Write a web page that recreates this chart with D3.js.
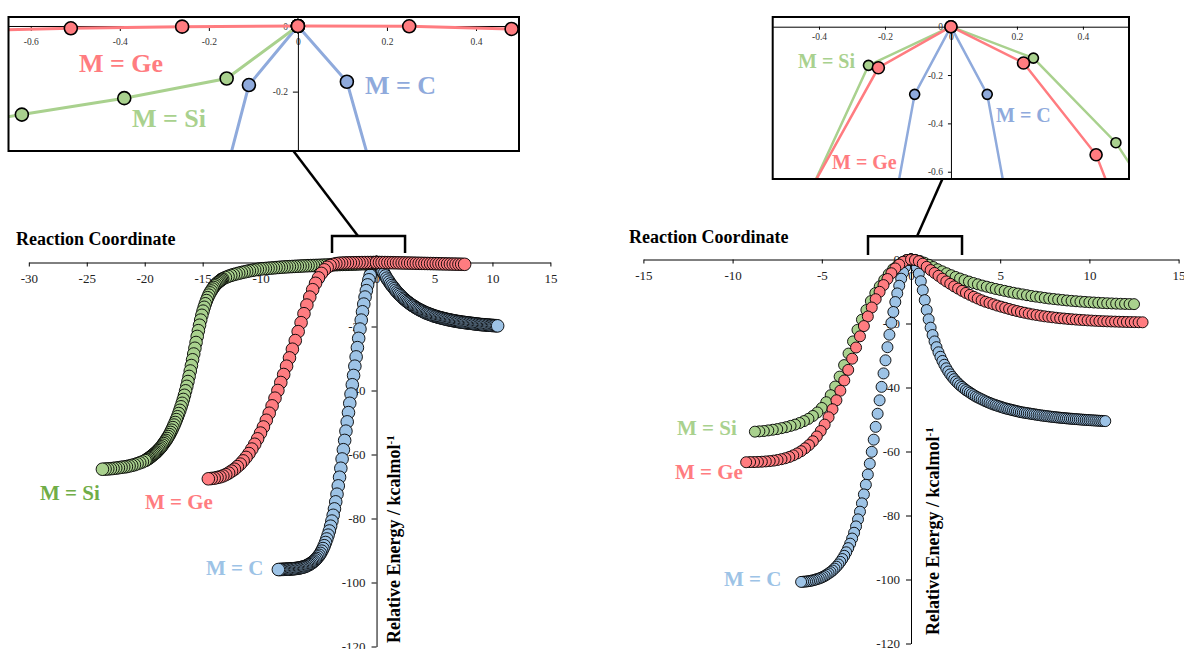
<!DOCTYPE html>
<html>
<head>
<meta charset="utf-8">
<script src="https://cdn.jsdelivr.net/npm/d3@7"></script>
<style>
  body { margin: 0; background: #fff; }
  svg { font-family: "Liberation Serif", "Times New Roman", serif; }
</style>
</head>
<body>
<div id="chart"></div>
<script>
// IRC profiles, [reaction coordinate, relative energy kcal/mol]
// each branch starts at the TS and goes outward (that is also the drawing order)

// ---- left panel ----
var siL_rev = [[0,0],[-0.16,-0.16],[-0.39,-0.22],[-0.62,-0.27],[-0.85,-0.32],[-1.08,-0.36],[-1.31,-0.4],[-1.54,-0.43],[-1.77,-0.47],[-2,-0.5],[-2.23,-0.52],[-2.46,-0.55],[-2.69,-0.57],[-2.92,-0.59],[-3.15,-0.62],[-3.38,-0.66],[-3.61,-0.69],[-3.84,-0.72],[-4.07,-0.76],[-4.3,-0.8],[-4.53,-0.83],[-4.76,-0.86],[-4.99,-0.9],[-5.22,-0.92],[-5.45,-0.95],[-5.68,-0.97],[-5.91,-0.99],[-6.14,-1.03],[-6.37,-1.07],[-6.6,-1.12],[-6.83,-1.17],[-7.06,-1.21],[-7.29,-1.26],[-7.52,-1.3],[-7.75,-1.35],[-7.98,-1.4],[-8.21,-1.46],[-8.44,-1.53],[-8.67,-1.6],[-8.9,-1.67],[-9.13,-1.74],[-9.36,-1.81],[-9.59,-1.88],[-9.82,-1.95],[-10.05,-2.02],[-10.28,-2.15],[-10.51,-2.3],[-10.74,-2.45],[-10.97,-2.6],[-11.2,-2.78],[-11.43,-2.96],[-11.66,-3.15],[-11.89,-3.36],[-12.12,-3.58],[-12.35,-3.8],[-12.58,-4.05],[-12.81,-4.35],[-13.04,-4.7],[-13.27,-5.1],
  [-13.37,-5.3],[-13.47,-5.6],[-13.57,-5.9],[-13.67,-6.2],[-13.77,-6.5],[-13.87,-6.9],[-13.97,-7.3],[-14.07,-7.8],[-14.17,-8.3],[-14.27,-8.9],[-14.37,-9.5],[-14.47,-10.2],[-14.57,-11],[-14.67,-11.9],[-14.77,-12.9],[-14.87,-14],[-14.97,-15.2],[-15.07,-16.5],[-15.17,-18],[-15.27,-19.6],[-15.37,-21.3],[-15.47,-23.1],[-15.57,-25],[-15.67,-26.8],[-15.77,-28.6],[-15.87,-30.4],[-15.97,-32.2],[-16.07,-33.9],[-16.17,-35.6],[-16.27,-37.2],[-16.37,-38.7],[-16.47,-40.1],[-16.57,-41.5],[-16.67,-42.8],[-16.77,-44],[-16.87,-45.1],[-16.97,-46.2],[-17.07,-47.2],[-17.17,-48.2],[-17.27,-49.1],[-17.37,-50],[-17.47,-50.8],[-17.57,-51.6],[-17.67,-52.4],[-17.77,-53.1],[-17.87,-53.8],[-17.97,-54.4],[-18.07,-55],[-18.17,-55.6],[-18.27,-56.1],[-18.37,-56.6],[-18.47,-57.1],[-18.57,-57.6],[-18.67,-58],[-18.77,-58.4],[-18.87,-58.8],[-18.97,-59.2],[-19.07,-59.5],[-19.17,-59.8],[-19.27,-60.1],[-19.37,-60.4],[-19.47,-60.7],[-19.57,-61],[-19.67,-61.2],[-19.77,-61.5],[-19.87,-61.7],[-19.97,-61.9],
  [-20.2,-62.3],[-20.43,-62.6],[-20.66,-62.9],[-20.89,-63.2],[-21.12,-63.4],[-21.35,-63.6],[-21.58,-63.8],[-21.81,-63.9],[-22.04,-64],[-22.27,-64.15],[-22.5,-64.25],[-22.73,-64.35],[-22.96,-64.45],[-23.19,-64.5],[-23.42,-64.55],[-23.65,-64.6]];

var geL_rev = [[0,0],[-0.26,-0.002],[-0.51,-0.007],[-0.76,-0.015],[-1.01,-0.025],[-1.26,-0.035],[-1.51,-0.045],[-1.76,-0.06],[-2.01,-0.075],[-2.26,-0.09],[-2.51,-0.11],[-2.76,-0.14],[-3.01,-0.18],[-3.26,-0.25],[-3.51,-0.38],[-3.76,-0.6],[-4.01,-0.95],[-4.26,-1.5],[-4.51,-2.3],[-4.76,-3.4],[-5.01,-4.8],[-5.26,-6.5],[-5.51,-8.5],[-5.76,-10.8],[-6.01,-13.3],[-6.26,-16],[-6.51,-18.8],[-6.76,-21.6],[-7.01,-24.4],[-7.26,-27.1],[-7.51,-29.8],[-7.76,-32.4],[-8.01,-35],[-8.26,-37.5],[-8.51,-40],[-8.76,-42.4],[-9.01,-44.8],[-9.26,-47.1],[-9.51,-49.3],[-9.76,-51.4],[-10.01,-53.3],[-10.26,-55.1],[-10.51,-56.8],[-10.76,-58.3],[-11.01,-59.7],[-11.26,-60.9],[-11.51,-62],[-11.76,-63],[-12.01,-63.8],[-12.26,-64.6],[-12.51,-65.2],[-12.76,-65.8],[-13.01,-66.3],[-13.26,-66.7],[-13.51,-67],[-13.76,-67.2],[-14.01,-67.4],[-14.26,-67.5],[-14.51,-67.6]];
var geL_fwd = [[0,0],[0.25,-0.001],[0.48,-0.009],[0.73,-0.02],[0.98,-0.035],[1.23,-0.05],[1.47,-0.07],[1.72,-0.09],[1.96,-0.11],[2.21,-0.13],[2.45,-0.15],[2.7,-0.17],[2.94,-0.19],[3.19,-0.21],[3.43,-0.23],[3.68,-0.25],[3.92,-0.27],[4.17,-0.29],[4.41,-0.31],[4.66,-0.33],[4.9,-0.35],[5.15,-0.37],[5.39,-0.39],[5.64,-0.41],[5.88,-0.43],[6.13,-0.45],[6.37,-0.47],[6.62,-0.49],[6.86,-0.51],[7.11,-0.53],[7.35,-0.55],[7.6,-0.57]];

var cL_rev = [[0,0],[-0.11,-0.18],[-0.22,-0.75],[-0.33,-1.6],[-0.44,-2.7],[-0.55,-4],[-0.66,-5.4],[-0.77,-7],[-0.88,-8.8],[-0.99,-10.8],[-1.1,-13],[-1.21,-15.4],[-1.32,-18],[-1.43,-20.8],[-1.54,-23.7],[-1.65,-26.6],[-1.76,-29.5],[-1.87,-32.4],[-1.98,-35.3],[-2.09,-38.2],[-2.2,-41.1],[-2.31,-44],[-2.42,-46.9],[-2.53,-49.8],[-2.64,-52.7],[-2.75,-55.6],[-2.86,-58.5],[-2.97,-61.4],[-3.08,-64.3],[-3.19,-67.1],[-3.3,-69.8],[-3.41,-72.4],[-3.52,-74.8],[-3.63,-77],[-3.74,-79],[-3.85,-80.8],[-3.96,-82.4],[-4.07,-83.9],[-4.18,-85.2],[-4.29,-86.4],[-4.4,-87.5],[-4.51,-88.5],[-4.62,-89.4],[-4.73,-90.2],[-4.84,-90.9],[-4.95,-91.5],[-5.06,-92],[-5.17,-92.5],[-5.28,-92.9],[-5.39,-93.3],[-5.5,-93.6],[-5.61,-93.9],[-5.72,-94.2],[-5.83,-94.4],[-5.94,-94.6],[-6.05,-94.8],[-6.16,-95],[-6.27,-95.1],[-6.38,-95.2],[-6.49,-95.3],[-6.6,-95.4],[-6.71,-95.5],[-6.82,-95.55],[-6.93,-95.6],[-7.04,-95.65],[-7.15,-95.7],[-7.26,-95.72],[-7.37,-95.75],[-7.48,-95.78],[-7.59,-95.8],[-7.7,-95.82],[-7.81,-95.84],[-7.92,-95.86],[-8.03,-95.88],[-8.14,-95.9],[-8.25,-95.92],[-8.36,-95.94],[-8.47,-95.95]];
var cL_fwd = [[0,0],[0.11,-0.17],[0.22,-0.7],[0.33,-1.4],[0.44,-2.1],[0.55,-2.8],[0.66,-3.5],[0.77,-4.2],[0.88,-4.9],[0.99,-5.5],[1.1,-6.1],[1.21,-6.7],[1.32,-7.2],[1.43,-7.7],[1.54,-8.2],[1.65,-8.7],[1.76,-9.2],[1.87,-9.6],[1.98,-10],[2.09,-10.4],[2.2,-10.8],[2.31,-11.2],[2.42,-11.5],[2.53,-11.9],[2.64,-12.2],[2.75,-12.5],[2.86,-12.8],[2.97,-13.1],[3.08,-13.4],[3.19,-13.6],[3.3,-13.9],[3.41,-14.1],[3.52,-14.4],[3.63,-14.6],[3.74,-14.8],[3.85,-15],[3.96,-15.2],[4.07,-15.4],[4.18,-15.6],[4.29,-15.8],[4.4,-15.9],[4.51,-16.1],[4.62,-16.2],[4.73,-16.4],[4.84,-16.5],[4.95,-16.7],[5.06,-16.8],[5.17,-16.9],[5.28,-17.05],[5.39,-17.15],[5.5,-17.25],[5.61,-17.35],[5.72,-17.45],[5.83,-17.55],[5.94,-17.65],[6.05,-17.75],[6.16,-17.85],[6.27,-17.9],[6.38,-18],[6.49,-18.1],[6.6,-18.15],[6.71,-18.25],[6.82,-18.3],[6.93,-18.4],[7.04,-18.45],[7.15,-18.5],[7.26,-18.6],[7.37,-18.65],[7.48,-18.7],[7.59,-18.75],[7.7,-18.8],[7.81,-18.85],[7.92,-18.9],[8.03,-18.95],[8.14,-19],[8.25,-19.05],[8.36,-19.1],[8.47,-19.15],[8.58,-19.2],[8.69,-19.25],[8.8,-19.3],[8.91,-19.35],[9.02,-19.4],[9.13,-19.42],[9.24,-19.45],[9.35,-19.48],[9.46,-19.52],[9.57,-19.55],[9.68,-19.58],[9.79,-19.62],[9.9,-19.65],[10.01,-19.68],[10.12,-19.7],[10.23,-19.73],[10.34,-19.76],[10.45,-19.8]];

// ---- right panel ----
var siR_rev = [[0,0],[-0.25,-0.16],[-0.5,-0.9],[-0.75,-1.9],[-1,-3],[-1.25,-4.6],[-1.5,-6.4],[-1.75,-8.4],[-2,-10.5],[-2.25,-13],[-2.5,-15.8],[-2.75,-18.8],[-3,-22],[-3.25,-25.6],[-3.5,-29.4],[-3.75,-33],[-4,-36.6],[-4.25,-39.7],[-4.5,-42.4],[-4.75,-44.6],[-5,-46.4],[-5.25,-47.8],[-5.5,-48.9],[-5.75,-49.8],[-6,-50.5],[-6.25,-51.1],[-6.5,-51.6],[-6.75,-52],[-7,-52.4],[-7.25,-52.7],[-7.5,-53],[-7.75,-53.2],[-8,-53.4],[-8.25,-53.6],[-8.5,-53.7],[-8.75,-53.8]];
var siR_fwd = [[0,0],[0.25,-0.13],[0.5,-0.48],[0.75,-1],[1,-1.65],[1.25,-2.35],[1.5,-3.05],[1.75,-3.7],[2,-4.3],[2.25,-4.9],[2.5,-5.45],[2.75,-5.95],[3,-6.45],[3.25,-6.9],[3.5,-7.35],[3.75,-7.75],[4,-8.15],[4.25,-8.5],[4.5,-8.85],[4.75,-9.2],[5,-9.5],[5.25,-9.8],[5.5,-10.1],[5.75,-10.4],[6,-10.65],[6.25,-10.9],[6.5,-11.15],[6.75,-11.4],[7,-11.6],[7.25,-11.8],[7.5,-12],[7.75,-12.2],[8,-12.35],[8.25,-12.5],[8.5,-12.65],[8.75,-12.8],[9,-12.92],[9.25,-13.04],[9.5,-13.15],[9.75,-13.25],[10,-13.35],[10.25,-13.44],[10.5,-13.52],[10.75,-13.6],[11,-13.67],[11.25,-13.73],[11.5,-13.79],[11.75,-13.84],[12,-13.88],[12.25,-13.92],[12.5,-13.95]];

var geR_rev = [[0,0],[-0.22,-0.17],[-0.44,-0.71],[-0.66,-1.6],[-0.88,-2.8],[-1.1,-4.3],[-1.32,-6.1],[-1.54,-8],[-1.76,-10.1],[-1.98,-12.4],[-2.2,-15],[-2.42,-17.8],[-2.64,-20.8],[-2.86,-24],[-3.08,-27.5],[-3.3,-31],[-3.52,-34.5],[-3.74,-37.8],[-3.96,-41],[-4.18,-44],[-4.4,-46.8],[-4.62,-49.3],[-4.84,-51.6],[-5.06,-53.6],[-5.28,-55.3],[-5.5,-56.8],[-5.72,-58],[-5.94,-59],[-6.16,-59.9],[-6.38,-60.6],[-6.6,-61.2],[-6.82,-61.7],[-7.04,-62.1],[-7.26,-62.4],[-7.48,-62.65],[-7.7,-62.85],[-7.92,-63],[-8.14,-63.1],[-8.36,-63.2],[-8.58,-63.25],[-8.8,-63.3],[-9.02,-63.3],[-9.24,-63.35]];
var geR_fwd = [[0,0],[0.22,-0.15],[0.44,-0.53],[0.66,-1.3],[0.88,-2.3],[1.1,-3.3],[1.32,-4.2],[1.54,-5.1],[1.76,-6],[1.98,-6.85],[2.2,-7.6],[2.42,-8.4],[2.64,-9.1],[2.86,-9.8],[3.08,-10.45],[3.3,-11.05],[3.52,-11.65],[3.74,-12.2],[3.96,-12.75],[4.18,-13.2],[4.4,-13.6],[4.62,-14],[4.84,-14.4],[5.06,-14.75],[5.28,-15.1],[5.5,-15.45],[5.72,-15.8],[5.94,-16.1],[6.16,-16.4],[6.38,-16.65],[6.6,-16.9],[6.82,-17.15],[7.04,-17.35],[7.26,-17.55],[7.48,-17.75],[7.7,-17.9],[7.92,-18.05],[8.14,-18.2],[8.36,-18.35],[8.58,-18.45],[8.8,-18.57],[9.02,-18.67],[9.24,-18.77],[9.46,-18.86],[9.68,-18.94],[9.9,-19.02],[10.12,-19.09],[10.34,-19.16],[10.56,-19.22],[10.78,-19.28],[11,-19.33],[11.22,-19.37],[11.44,-19.41],[11.66,-19.45],[11.88,-19.49],[12.1,-19.52],[12.32,-19.55],[12.54,-19.57],[12.76,-19.6],[12.98,-19.62]];

var cR_rev = [[0,0],[-0.11,-0.28],[-0.22,-1.1],[-0.33,-2.4],[-0.44,-4.1],[-0.55,-6],[-0.66,-8.2],[-0.77,-10.6],[-0.88,-13.3],[-0.99,-16.4],[-1.1,-19.8],[-1.21,-23.5],[-1.32,-27.4],[-1.43,-31.5],[-1.54,-35.6],[-1.65,-39.8],[-1.76,-44],[-1.87,-48.2],[-1.98,-52.3],[-2.09,-56.3],[-2.2,-60.1],[-2.31,-63.8],[-2.42,-67.2],[-2.53,-70.4],[-2.64,-73.4],[-2.75,-76.2],[-2.86,-78.8],[-2.97,-81.2],[-3.08,-83.4],[-3.19,-85.4],[-3.3,-87.2],[-3.41,-88.8],[-3.52,-90.2],[-3.63,-91.5],[-3.74,-92.6],[-3.85,-93.6],[-3.96,-94.5],[-4.07,-95.3],[-4.18,-96],[-4.29,-96.6],[-4.4,-97.2],[-4.51,-97.7],[-4.62,-98.1],[-4.73,-98.5],[-4.84,-98.9],[-4.95,-99.2],[-5.06,-99.5],[-5.17,-99.7],[-5.28,-99.9],[-5.39,-100.1],[-5.5,-100.25],[-5.61,-100.4],[-5.72,-100.5],[-5.83,-100.6],[-5.94,-100.65],[-6.05,-100.7],[-6.16,-100.75]];
var cR_fwd = [[0,0],[0.11,-0.28],[0.22,-1.1],[0.33,-2.5],[0.44,-4.4],[0.55,-6.8],[0.66,-9.6],[0.77,-12.7],[0.88,-15.8],[0.99,-18.7],[1.1,-21.3],[1.21,-23.6],[1.32,-25.6],[1.43,-27.4],[1.54,-29],[1.65,-30.4],[1.76,-31.7],[1.87,-32.9],[1.98,-34],[2.09,-35],[2.2,-35.9],[2.31,-36.7],[2.42,-37.4],[2.53,-38.1],[2.64,-38.7],[2.75,-39.3],[2.86,-39.8],[2.97,-40.3],[3.08,-40.8],[3.19,-41.2],[3.3,-41.6],[3.41,-42],[3.52,-42.4],[3.63,-42.8],[3.74,-43.1],[3.85,-43.4],[3.96,-43.7],[4.07,-44],[4.18,-44.3],[4.29,-44.55],[4.4,-44.8],[4.51,-45.05],[4.62,-45.3],[4.73,-45.5],[4.84,-45.7],[4.95,-45.9],[5.06,-46.1],[5.17,-46.3],[5.28,-46.5],[5.39,-46.65],[5.5,-46.8],[5.61,-46.95],[5.72,-47.1],[5.83,-47.25],[5.94,-47.4],[6.05,-47.55],[6.16,-47.7],[6.27,-47.8],[6.38,-47.9],[6.49,-48],[6.6,-48.1],[6.71,-48.2],[6.82,-48.3],[6.93,-48.4],[7.04,-48.5],[7.15,-48.6],[7.26,-48.7],[7.37,-48.78],[7.48,-48.86],[7.59,-48.94],[7.7,-49.02],[7.81,-49.1],[7.92,-49.17],[8.03,-49.24],[8.14,-49.31],[8.25,-49.38],[8.36,-49.44],[8.47,-49.5],[8.58,-49.56],[8.69,-49.62],[8.8,-49.68],[8.91,-49.73],[9.02,-49.78],[9.13,-49.83],[9.24,-49.88],[9.35,-49.93],[9.46,-49.98],[9.57,-50.03],[9.68,-50.08],[9.79,-50.12],[9.9,-50.16],[10.01,-50.2],[10.12,-50.24],[10.23,-50.28],[10.34,-50.32],[10.45,-50.36],[10.56,-50.4],[10.67,-50.43],[10.78,-50.46],[10.89,-50.5]];

// tick values
var xTicksL = [-30, -25, -20, -15, -10, -5, 0, 5, 10, 15];
var xTicksR = [-15, -10, -5, 0, 5, 10, 15];
var yTicks = [0, -20, -40, -60, -80, -100, -120];
var insetXTicksL = [-0.6, -0.4, -0.2, 0, 0.2, 0.4];
var insetYTicksL = [0, -0.2];
var insetXTicksR = [-0.4, -0.2, 0, 0.2, 0.4];
var insetYTicksR = [0, -0.2, -0.4, -0.6];

// colours
var siFill = "#A9D18E", geFill = "#FF7C80", cFill = "#9DC3E6", cInset = "#8FAADC";
var serif = "'Liberation Serif', 'Times New Roman', serif";

var svg = d3.select("#chart")
  .append("svg")
    .attr("width", 1184)
    .attr("height", 649)
    .attr("font-family", serif);

var fmt = function(d) { return String(d); };

function styleAxis(a, size, color) {
  a.attr("font-family", serif).attr("font-size", size);
  a.selectAll("text").attr("fill", color);
  a.selectAll("path,line").attr("stroke", "#000");
}

function drawMain(p) {
  var g = svg.append("g");

  // axes (under the markers)
  var xa = g.append("g")
    .attr("transform", "translate(0," + p.y(0) + ")")
    .call(d3.axisBottom(p.x).tickValues(p.xTicks).tickSize(4).tickPadding(7).tickSizeOuter(0).tickFormat(fmt));
  var ya = g.append("g")
    .attr("transform", "translate(" + p.x(0) + ",0)")
    .call(d3.axisLeft(p.y).tickValues(yTicks).tickSize(5).tickPadding(6).tickSizeOuter(0).tickFormat(fmt));
  styleAxis(xa, 13, "#222");
  styleAxis(ya, 13, "#222");

  // axis titles
  g.append("text")
    .attr("x", p.titleX).attr("y", p.titleY)
    .attr("font-size", 18).attr("font-weight", "bold")
    .text("Reaction Coordinate");
  var yt = g.append("text")
    .attr("transform", "translate(" + p.yTitleX + "," + p.yTitleY + ") rotate(-90)")
    .attr("font-size", 18).attr("font-weight", "bold");
  yt.append("tspan").text("Relative Energy / kcalmol");
  yt.append("tspan").attr("baseline-shift", "super").attr("font-size", 11).text("-1");

  // markers: C first, then Si, then Ge
  p.series.forEach(function(s) {
    s.branches.forEach(function(b) {
      g.append("g").selectAll("circle")
        .data(b)
        .enter().append("circle")
          .attr("cx", function(d) { return p.x(d[0]); })
          .attr("cy", function(d) { return p.y(d[1]); })
          .attr("r", p.r)
          .attr("fill", s.fill)
          .attr("stroke", "#000")
          .attr("stroke-width", 0.9);
    });
  });

  // labels
  p.labels.forEach(function(l) {
    g.append("text")
      .attr("x", l.x).attr("y", l.y)
      .attr("fill", l.color)
      .attr("font-size", p.labelSize).attr("font-weight", "bold")
      .text(l.text);
  });

  // bracket marking the zoomed region
  g.append("path")
    .attr("d", "M" + p.x(p.bracket[0]) + "," + p.y(p.bracket[3]) +
               "L" + p.x(p.bracket[0]) + "," + p.y(p.bracket[2]) +
               "L" + p.x(p.bracket[1]) + "," + p.y(p.bracket[2]) +
               "L" + p.x(p.bracket[1]) + "," + p.y(p.bracket[3]))
    .attr("fill", "none").attr("stroke", "#000").attr("stroke-width", 2.5);
}

function drawInset(q, main) {
  var g = svg.append("g");
  var x0 = q.x.range()[0], x1 = q.x.range()[1];
  var y0 = q.y.range()[0], y1 = q.y.range()[1];

  // connector from inset to bracket
  g.append("line")
    .attr("x1", q.x(q.link[0])).attr("y1", y1)
    .attr("x2", main.x(q.link[1])).attr("y2", main.y(main.bracket[2]))
    .attr("stroke", "#000").attr("stroke-width", 2.5);

  g.append("rect")
    .attr("x", x0).attr("y", y0).attr("width", x1 - x0).attr("height", y1 - y0)
    .attr("fill", "#fff").attr("stroke", "none");

  g.append("clipPath").attr("id", q.id)
    .append("rect")
      .attr("x", x0).attr("y", y0).attr("width", x1 - x0).attr("height", y1 - y0);

  var xa = g.append("g")
    .attr("transform", "translate(0," + q.y(0) + ")")
    .call(d3.axisBottom(q.x).tickValues(q.xTicks).tickSize(q.tick).tickPadding(q.pad).tickSizeOuter(0).tickFormat(fmt));
  var yAxisScale = d3.scaleLinear().domain([0, q.y.domain()[1]]).range([q.y(0), y1]);
  var ya = g.append("g")
    .attr("transform", "translate(" + q.x(0) + ",0)")
    .call(d3.axisLeft(yAxisScale).tickValues(q.yTicks).tickSize(q.tick).tickPadding(5).tickSizeOuter(0).tickFormat(fmt));
  styleAxis(xa, 9.5, "#333");
  styleAxis(ya, 9.5, "#333");

  var plot = g.append("g").attr("clip-path", "url(#" + q.id + ")");
  var line = d3.line()
    .x(function(d) { return q.x(d[0]); })
    .y(function(d) { return q.y(d[1]); });

  q.series.forEach(function(s) {
    s.branches.forEach(function(b) {
      plot.append("path")
        .attr("d", line(b))
        .attr("fill", "none")
        .attr("stroke", s.line)
        .attr("stroke-width", q.lineWidth);
    });
  });
  q.series.forEach(function(s) {
    s.branches.forEach(function(b) {
      plot.append("g").selectAll("circle")
        .data(b.filter(function(d) { return d[1] >= q.y.domain()[1] - 0.05 && d[0] >= q.x.domain()[0] - 0.05 && d[0] <= q.x.domain()[1] + 0.05; }))
        .enter().append("circle")
          .attr("cx", function(d) { return q.x(d[0]); })
          .attr("cy", function(d) { return q.y(d[1]); })
          .attr("r", s.r)
          .attr("fill", s.fill)
          .attr("stroke", "#000")
          .attr("stroke-width", 1.6);
    });
  });

  q.labels.forEach(function(l) {
    g.append("text")
      .attr("x", l.x).attr("y", l.y)
      .attr("fill", l.color)
      .attr("font-size", q.labelSize).attr("font-weight", "bold")
      .text(l.text);
  });

  g.append("rect")
    .attr("x", x0).attr("y", y0).attr("width", x1 - x0).attr("height", y1 - y0)
    .attr("fill", "none").attr("stroke", "#000").attr("stroke-width", 2);
}

// ---------- left panel ----------
var left = {
  x: d3.scaleLinear().domain([-30, 15]).range([28.8, 550.4]),
  y: d3.scaleLinear().domain([0, -120]).range([262.5, 646.5]),
  xTicks: xTicksL, r: 6.3,
  titleX: 16, titleY: 245, yTitleX: 400, yTitleY: 643,
  labelSize: 21,
  bracket: [-3.84, 2.46, 8.3, 3.0],
  series: [
    {fill: cFill, branches: [cL_rev, cL_fwd]},
    {fill: siFill, branches: [siL_rev]},
    {fill: geFill, branches: [geL_rev, geL_fwd]}
  ],
  labels: [
    {text: "M = Si", x: 40, y: 500, color: "#70AD47"},
    {text: "M = Ge", x: 145, y: 509, color: geFill},
    {text: "M = C", x: 206, y: 575, color: cFill}
  ]
};

// ---------- right panel ----------
var right = {
  x: d3.scaleLinear().domain([-15, 15]).range([643.4, 1178.6]),
  y: d3.scaleLinear().domain([0, -120]).range([259.5, 643.5]),
  xTicks: xTicksR, r: 5.5,
  titleX: 629, titleY: 243, yTitleX: 939, yTitleY: 635,
  labelSize: 21,
  bracket: [-2.41, 2.86, 7.3, 1.4],
  series: [
    {fill: cFill, branches: [cR_rev, cR_fwd]},
    {fill: siFill, branches: [siR_rev, siR_fwd]},
    {fill: geFill, branches: [geR_rev, geR_fwd]}
  ],
  labels: [
    {text: "M = Si", x: 677, y: 435, color: siFill},
    {text: "M = Ge", x: 675, y: 479, color: geFill},
    {text: "M = C", x: 724, y: 586, color: cFill}
  ]
};

drawMain(left);
drawMain(right);

// ---------- insets (zoom on the TS region) ----------
drawInset({
  id: "clipL",
  x: d3.scaleLinear().domain([-0.65, 0.4966]).range([8.5, 519]),
  y: d3.scaleLinear().domain([0.0274, -0.381]).range([17, 151]),
  xTicks: insetXTicksL, yTicks: insetYTicksL, tick: 5, pad: 7,
  lineWidth: 3, labelSize: 26,
  link: [-0.01, -1.6],
  series: [
    {fill: cInset, line: cInset, r: 6.5, branches: [cL_rev, cL_fwd]},
    {fill: siFill, line: siFill, r: 6.5, branches: [siL_rev]},
    {fill: geFill, line: geFill, r: 6.5, branches: [geL_rev, geL_fwd]}
  ],
  labels: [
    {text: "M = Ge", x: 79, y: 72, color: geFill},
    {text: "M = Si", x: 132, y: 127, color: siFill},
    {text: "M = C", x: 365, y: 94, color: cInset}
  ]
}, left);

drawInset({
  id: "clipR",
  x: d3.scaleLinear().domain([-0.5403, 0.5397]).range([772.7, 1129]),
  y: d3.scaleLinear().domain([0.0401, -0.6301]).range([17, 179]),
  xTicks: insetXTicksR, yTicks: insetYTicksR, tick: 3, pad: 4,
  lineWidth: 2.5, labelSize: 20,
  link: [-0.026, 0.34],
  series: [
    {fill: cInset, line: cInset, r: 5, branches: [cR_rev, cR_fwd]},
    {fill: siFill, line: siFill, r: 5, branches: [siR_rev, siR_fwd]},
    {fill: geFill, line: geFill, r: 6, branches: [geR_rev, geR_fwd]}
  ],
  labels: [
    {text: "M = Si", x: 798, y: 68, color: siFill},
    {text: "M = Ge", x: 832, y: 169, color: geFill},
    {text: "M = C", x: 996, y: 122, color: cInset}
  ]
}, right);
</script>
</body>
</html>
